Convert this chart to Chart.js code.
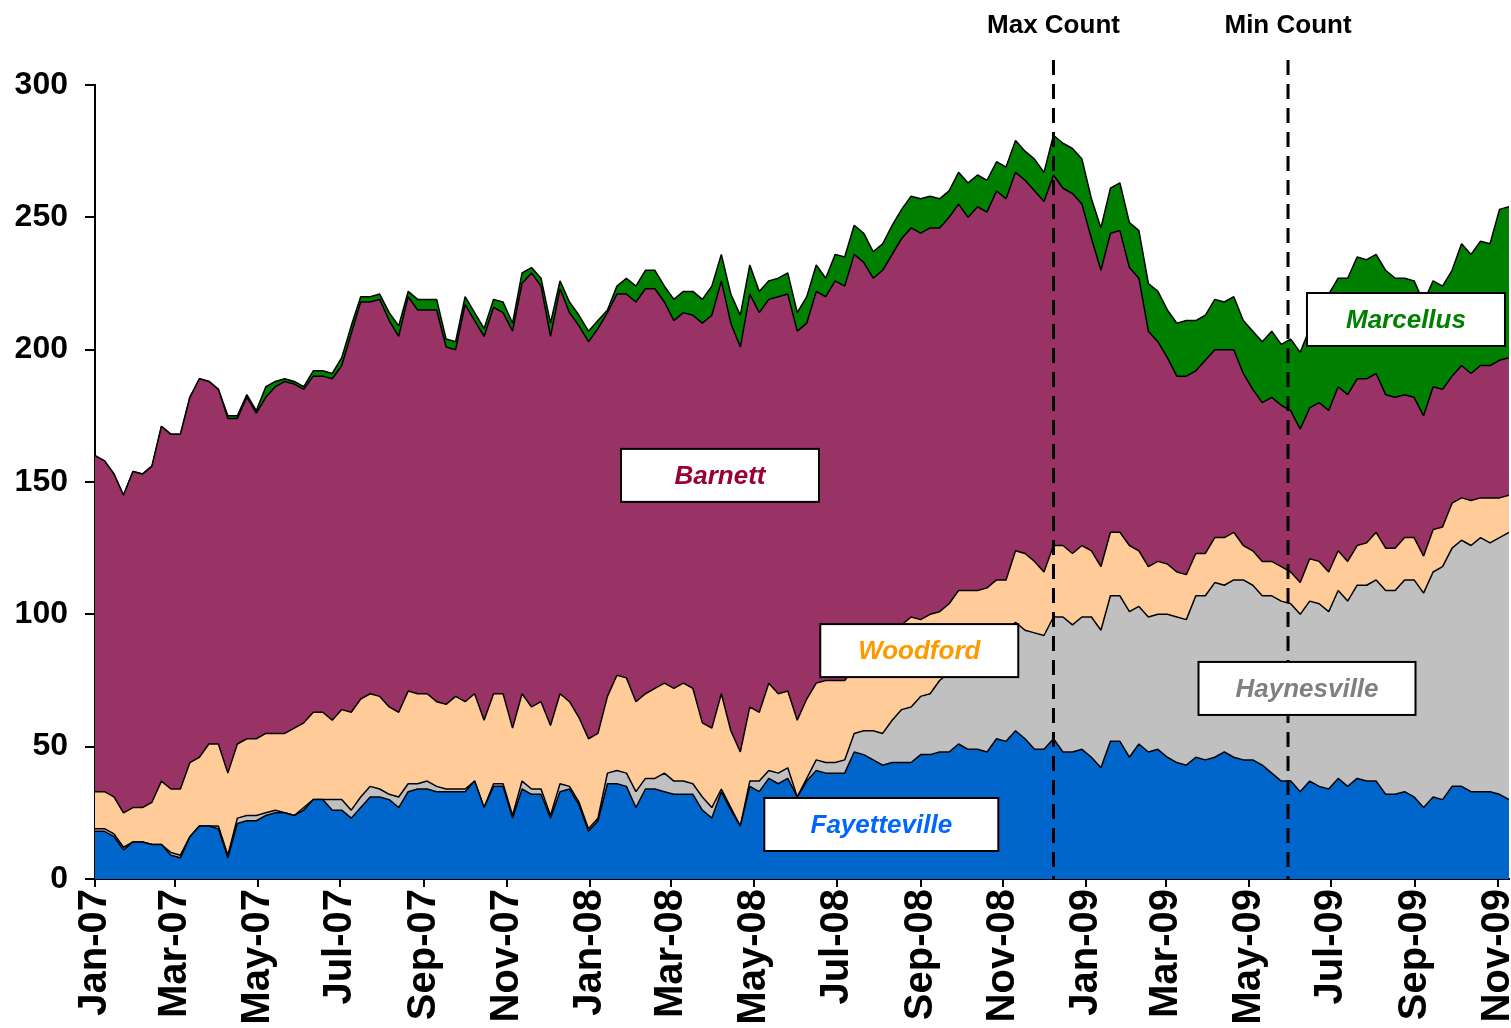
<!DOCTYPE html>
<html>
<head>
<meta charset="utf-8">
<script src="https://cdn.jsdelivr.net/npm/chart.js@4.4.1/dist/chart.umd.min.js"></script>
<style>
  html, body { margin: 0; padding: 0; background: #fff; }
  #wrap { width: 1511px; height: 1028px; }
</style>
</head>
<body>
<div id="wrap"><canvas id="rigChart" width="1511" height="1028"></canvas></div>
<script>
// Weekly rig counts by shale play, first week = 5 Jan 2007
const fayetteville = [
  18,18,16,11,14,14,13,13,9,8, 16,20,20,19,8,21,22,22,24,25,
  25,24,26,30,30,26,26,23,27,31, 31,30,27,33,34,34,33,33,33,33,
  37,27,35,35,23,34,32,32,23,33, 34,28,18,22,36,36,35,27,34,34,
  33,32,32,32,26,23,33,26,20,35, 33,38,36,38,31,37,41,40,40,40,
  48,47,45,43,44,44,44,47,47,48, 48,51,49,49,48,53,52,56,53,49,
  49,53,48,48,49,46,42,52,52,46, 51,48,49,46,44,43,46,45,46,48,
  46,45,45,43,40,37,37,33,37,35, 34,38,35,38,37,37,32,32,33,31,
  27,31,30,35,35,33,33,33,32,30
];
const haynesville = [
  1,1,1,1,0,0,0,0,1,1, 0,0,0,1,1,2,2,2,1,1,
  0,0,1,0,0,4,4,3,4,4, 3,2,4,3,2,3,2,1,1,1,
  0,0,1,1,1,3,2,2,1,3, 1,1,1,1,4,5,5,6,4,4,
  7,5,5,4,5,4,1,1,0,2, 4,3,4,4,0,1,4,4,4,5,
  7,9,11,12,16,20,21,22,23,27, 30,30,35,37,40,38,42,41,41,44,
  43,46,51,48,50,53,52,55,55,55, 52,51,51,54,55,55,61,62,66,63,
  67,68,66,64,67,68,67,67,68,69, 67,71,70,73,74,76,77,77,80,82,
  81,85,88,90,93,93,96,94,97,101
];
const woodford = [
  14,14,14,13,13,13,16,24,24,25, 28,26,31,31,31,28,29,29,30,29,
  30,33,32,33,33,30,34,37,37,35, 35,33,32,35,34,33,32,32,35,33,
  33,33,34,34,33,33,31,33,34,34, 32,32,34,32,29,36,36,34,32,34,
  34,35,37,36,28,30,36,29,28,28, 26,33,30,29,29,30,29,31,31,30,
  25,27,29,33,32,32,34,29,30,26, 26,28,25,23,22,22,19,27,29,27,
  24,27,27,27,27,25,24,24,24,25, 21,19,20,19,17,17,16,16,17,18,
  18,13,13,13,13,13,12,12,16,16, 15,15,15,15,16,18,16,16,16,16,
  14,16,15,17,16,17,15,17,15,14
];
const barnett = [
  127,125,122,120,127,126,127,134,134,134, 138,143,137,134,134,123,129,123,127,131,
  133,130,126,127,127,129,130,143,150,148, 150,146,142,149,145,145,148,135,131,150,
  141,145,146,144,150,155,164,157,147,153, 147,148,150,153,145,144,145,151,153,151,
  144,139,140,141,151,156,156,154,153,156, 151,145,150,150,147,142,148,145,151,149,
  156,150,142,142,144,146,147,146,146,145, 146,146,141,145,142,147,144,143,141,140,
  140,140,135,136,129,118,112,113,114,105, 103,89,83,78,74,75,69,73,71,71,
  69,65,61,60,62,61,61,58,57,60, 61,62,63,63,62,60,58,57,54,53,
  53,54,52,48,50,48,50,50,52,52
];
const marcellus = [
  0,0,0,0,0,0,0,0,0,0, 0,0,0,0,1,1,1,1,4,2,
  1,1,1,2,2,2,3,3,2,2, 2,3,4,2,4,4,4,3,3,3,
  3,3,3,4,3,4,2,3,5,3, 4,4,4,3,1,3,6,6,7,7,
  6,8,8,9,9,11,10,11,12,11, 8,7,7,8,7,10,10,7,10,11,
  11,11,10,10,11,11,12,13,12,11, 10,12,13,12,12,11,12,12,11,12,
  11,15,17,17,17,15,16,17,18,17, 18,18,19,18,20,21,19,17,19,18,
  20,20,22,23,25,23,27,29,30,34, 44,41,44,46,45,45,47,45,44,44,
  43,40,39,40,46,45,47,46,57,57
];

const tickLabels = ['Jan-07','Mar-07','May-07','Jul-07','Sep-07','Nov-07','Jan-08','Mar-08','May-08',
                    'Jul-08','Sep-08','Nov-08','Jan-09','Mar-09','May-09','Jul-09','Sep-09','Nov-09'];
const yTicks = [0, 50, 100, 150, 200, 250, 300];

// x positions are days since the first week
const DAY = 864e5;
const start = Date.UTC(2007, 0, 5);
const weekDays = fayetteville.map((_, i) => i * 7);
const tickDays = tickLabels.map((_, k) => Math.round((Date.UTC(2007, 2 * k, 5) - start) / DAY));

const countMarkers = [
  { text: 'Max Count', day: 707 },
  { text: 'Min Count', day: 880 }
];
// label boxes, anchored in data space (day, rigs)
const playLabels = [
  { text: 'Barnett', color: '#990033', day: 461, value: 152.5, w: 198 },
  { text: 'Woodford', color: '#FF9900', day: 608, value: 86.3, w: 198 },
  { text: 'Fayetteville', color: '#0066FF', day: 580, value: 20.6, w: 234 },
  { text: 'Haynesville', color: '#808080', day: 894, value: 72, w: 217 },
  { text: 'Marcellus', color: '#008000', day: 967, value: 211.4, w: 198 }
];

const FONT = '"Liberation Sans", Arial, Helvetica, sans-serif';
Chart.defaults.font.family = FONT;
Chart.defaults.color = '#000';

const pts = arr => arr.map((v, i) => ({ x: weekDays[i], y: v }));
const area = (label, arr, color, fill) => ({
  label, data: pts(arr), fill,
  backgroundColor: color, borderColor: '#000', borderWidth: 1.5,
  borderJoinStyle: 'bevel', pointRadius: 0, pointHoverRadius: 0, tension: 0
});

const annotations = {
  id: 'annotations',
  afterDraw(chart) {
    const { ctx, chartArea, scales: { x, y } } = chart;
    ctx.save();
    // dashed vertical markers
    countMarkers.forEach(m => {
      const px = x.getPixelForValue(m.day);
      ctx.strokeStyle = '#000';
      ctx.lineWidth = 3;
      ctx.setLineDash([15, 9]);
      ctx.beginPath();
      ctx.moveTo(px, chartArea.top - 25);
      ctx.lineTo(px, chartArea.bottom);
      ctx.stroke();
      ctx.setLineDash([]);
      ctx.fillStyle = '#000';
      ctx.font = 'bold 26px ' + FONT;
      ctx.textAlign = 'center';
      ctx.textBaseline = 'middle';
      ctx.fillText(m.text, px, chartArea.top - 59);
    });
    // play name boxes
    playLabels.forEach(l => {
      const cx = x.getPixelForValue(l.day);
      const cy = y.getPixelForValue(l.value);
      const h = 53;
      ctx.fillStyle = '#fff';
      ctx.fillRect(cx - l.w / 2, cy - h / 2, l.w, h);
      ctx.strokeStyle = '#000';
      ctx.lineWidth = 2;
      ctx.strokeRect(cx - l.w / 2, cy - h / 2, l.w, h);
      ctx.fillStyle = l.color;
      ctx.font = 'italic bold 26px ' + FONT;
      ctx.textAlign = 'center';
      ctx.textBaseline = 'middle';
      ctx.fillText(l.text, cx, cy + 1);
    });
    ctx.restore();
  }
};

new Chart(document.getElementById('rigChart'), {
  type: 'line',
  data: {
    datasets: [
      area('Fayetteville', fayetteville, '#0066CC', 'origin'),
      area('Haynesville', haynesville, '#C0C0C0', '-1'),
      area('Woodford', woodford, '#FFCC99', '-1'),
      area('Barnett', barnett, '#993366', '-1'),
      area('Marcellus', marcellus, '#008000', '-1')
    ]
  },
  options: {
    responsive: false,
    animation: false,
    devicePixelRatio: 1,
    layout: { padding: { top: 85, right: 2, bottom: 0, left: 0 } },
    plugins: { legend: { display: false }, tooltip: { enabled: false } },
    scales: {
      x: {
        type: 'linear',
        min: 0,
        max: weekDays[weekDays.length - 1],
        z: 1,
        afterBuildTicks: s => { s.ticks = tickDays.map(v => ({ value: v })); },
        afterFit: s => { s.height = 149; s.paddingLeft = 0; s.paddingRight = 0; },
        ticks: {
          autoSkip: false, maxRotation: 90, minRotation: 90, padding: 2,
          font: { size: 40, weight: 'bold' },
          callback: v => { const k = tickDays.indexOf(v); return k >= 0 ? tickLabels[k] : ''; }
        },
        grid: { drawOnChartArea: false, drawTicks: true, tickLength: 8, color: '#000', lineWidth: 2 },
        border: { display: true, color: '#000', width: 2 }
      },
      y: {
        stacked: true,
        min: 0,
        max: 300,
        z: 1,
        afterBuildTicks: s => { s.ticks = yTicks.map(v => ({ value: v })); },
        afterFit: s => { s.width = 95; s.paddingTop = 0; s.paddingBottom = 0; },
        ticks: { padding: 17, font: { size: 32, weight: 'bold' } },
        grid: { drawOnChartArea: false, drawTicks: true, tickLength: 10, color: '#000', lineWidth: 2 },
        border: { display: true, color: '#000', width: 2 }
      }
    }
  },
  plugins: [annotations]
});
</script>
</body>
</html>
